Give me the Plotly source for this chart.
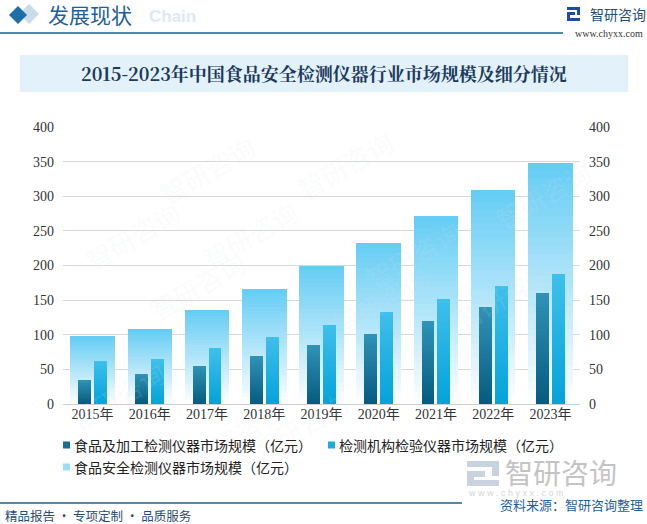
import plotly.graph_objects as go

# ---- data ----
years = ["2015年", "2016年", "2017年", "2018年", "2019年", "2020年", "2021年", "2022年", "2023年"]
food_processing = [35.3, 44.0, 55.6, 68.6, 84.5, 100.5, 119.3, 139.6, 159.9]
testing_agency = [62.8, 64.3, 80.2, 96.1, 113.5, 132.4, 151.2, 170.0, 187.4]
total_market = [97.6, 107.7, 135.3, 165.7, 199.5, 232.4, 271.5, 309.2, 348.3]
y_ticks = [0, 50, 100, 150, 200, 250, 300, 350, 400]

name_proc = "食品及加工检测仪器市场规模（亿元）"
name_agency = "检测机构检验仪器市场规模（亿元）"
name_total = "食品安全检测仪器市场规模（亿元）"

W, H = 647, 524
ML, MR, MT, MB = 63, 67, 127, 120
PW, PH = W - ML - MR, H - MT - MB

def hex2rgb(h):
    h = h.lstrip("#")
    return tuple(int(h[i:i + 2], 16) for i in (0, 2, 4))

def mix(c1, c2, t):
    a, b = hex2rgb(c1), hex2rgb(c2)
    return "rgb(%d,%d,%d)" % tuple(round(a[i] + (b[i] - a[i]) * t) for i in range(3))

fig = go.Figure()
N = 32

def gradient_bars(vals, bottom, top, offset, width):
    for k in range(N):
        base = [v * k / N for v in vals]
        h = [v / N * (1.6 if k < N - 1 else 1.0) for v in vals]
        fig.add_trace(go.Bar(
            x=years, y=h, base=base, offset=offset, width=width,
            marker=dict(color=mix(bottom, top, (k + 0.5) / N), line=dict(width=0)),
            showlegend=False, hoverinfo="skip"))

gradient_bars(total_market, "#ffffff", "#64ccf4", -0.39, 0.78)
gradient_bars(food_processing, "#055b7f", "#3093b7", -0.252, 0.226)
gradient_bars(testing_agency, "#03a3da", "#40bfeb", 0.026, 0.226)

# invisible trace for right axis
fig.add_trace(go.Scatter(x=years, y=total_market, yaxis="y2", mode="markers",
                         marker=dict(opacity=0), showlegend=False, hoverinfo="skip"))

tick_font = dict(family="Liberation Serif, Noto Sans CJK SC", size=14, color="#333333")

fig.update_layout(
    width=W, height=H,
    margin=dict(l=ML, r=MR, t=MT, b=MB),
    paper_bgcolor="white", plot_bgcolor="rgba(0,0,0,0)",
    barmode="overlay", bargap=0,
    showlegend=False,
    xaxis=dict(type="category", showgrid=False, zeroline=False, showline=False,
               ticks="", tickfont=dict(family="Liberation Serif, Noto Sans CJK SC", size=14, color="#333333")),
    yaxis=dict(range=[0, 400], tickvals=y_ticks, showgrid=True, gridcolor="#d9d9d9", gridwidth=1,
               zeroline=True, zerolinecolor="#cfcfcf", zerolinewidth=1, showline=False,
               ticks="", tickfont=tick_font, ticklabelstandoff=8),
    yaxis2=dict(range=[0, 400], tickvals=y_ticks, overlaying="y", side="right", showgrid=False,
                zeroline=False, showline=False, ticks="", tickfont=tick_font, ticklabelstandoff=8),
    font=dict(family="Noto Sans CJK SC"),
)

shapes = []
ann = []

def px_x(x):
    return (x - ML) / PW

def px_y(y):
    return (H - MB - y) / PH

# faint background watermarks
for (wx, wy) in [(150, 125), (345, 120), (75, 235), (250, 190), (470, 210), (600, 150),
                 (140, 330), (380, 300), (560, 340), (60, 440), (300, 470), (180, 480)]:
    ann.append(dict(x=px_x(wx), y=px_y(wy), xref="paper", yref="paper", text="智研咨询",
                    showarrow=False, textangle=-30,
                    font=dict(family="Noto Sans CJK SC", size=26, color="rgba(215,226,238,0.14)")))

# header
shapes.append(dict(type="path", xref="paper", yref="paper",
                   path="M %f %f L %f %f L %f %f L %f %f Z" % (px_x(29), px_y(4), px_x(39), px_y(14), px_x(29), px_y(24), px_x(19), px_y(14)),
                   fillcolor="#c9dcea", line=dict(width=0), layer="below"))
shapes.append(dict(type="path", xref="paper", yref="paper",
                   path="M %f %f L %f %f L %f %f L %f %f Z" % (px_x(18), px_y(6), px_x(27), px_y(15), px_x(18), px_y(24), px_x(9), px_y(15)),
                   fillcolor="#1d6ea6", line=dict(width=0)))
ann.append(dict(x=px_x(147), y=px_y(16), xref="paper", yref="paper", text="<b>Chain</b>",
                showarrow=False, xanchor="left", yanchor="middle",
                font=dict(family="Liberation Sans", size=17, color="#dde9f4")))
ann.append(dict(x=px_x(46), y=px_y(14), xref="paper", yref="paper", text="发展现状",
                showarrow=False, xanchor="left", yanchor="middle",
                font=dict(family="Noto Sans CJK SC", size=21, color="#1f6098")))
shapes.append(dict(type="line", xref="paper", yref="paper", x0=px_x(0), x1=px_x(563), y0=px_y(33), y1=px_y(33),
                   line=dict(color="#1f5f8a", width=1.5)))
# top-right logo
for (x0, y0, x1, y1) in [(567, 7, 580, 10), (577, 7, 580, 15), (567, 12, 575, 15), (567, 12, 570, 21), (567, 18, 580, 21)]:
    shapes.append(dict(type="rect", xref="paper", yref="paper", x0=px_x(x0), x1=px_x(x1), y0=px_y(y0), y1=px_y(y1),
                       fillcolor="#1f4e9a", line=dict(width=0)))
ann.append(dict(x=px_x(588), y=px_y(14), xref="paper", yref="paper", text="智研咨询",
                showarrow=False, xanchor="left", yanchor="middle",
                font=dict(family="Noto Sans CJK SC", size=14, color="#1f4e79")))
ann.append(dict(x=px_x(645), y=px_y(33), xref="paper", yref="paper", text="www.chyxx.com",
                showarrow=False, xanchor="right", yanchor="middle",
                font=dict(family="Liberation Serif", size=10, color="#333333")))

# title box
shapes.append(dict(type="rect", xref="paper", yref="paper", x0=px_x(20), x1=px_x(628), y0=px_y(55), y1=px_y(92),
                   fillcolor="#e3f1fa", line=dict(width=0), layer="below"))
ann.append(dict(x=px_x(324), y=px_y(73), xref="paper", yref="paper",
                text="<b>2015-2023年中国食品安全检测仪器行业市场规模及细分情况</b>",
                showarrow=False, xanchor="center", yanchor="middle",
                font=dict(family="Noto Serif CJK SC, Noto Sans CJK SC", size=18, color="#1b3a5c")))

# legend
legend_items = [(63, 445, name_proc, "#1a6e91"), (328, 445, name_agency, "#1aa9e0"), (63, 467, name_total, "#9fdcf6")]
for (lx, ly, txt, col) in legend_items:
    shapes.append(dict(type="rect", xref="paper", yref="paper", x0=px_x(lx), x1=px_x(lx + 7),
                       y0=px_y(ly - 3.5), y1=px_y(ly + 3.5), fillcolor=col, line=dict(width=0)))
    ann.append(dict(x=px_x(lx + 9), y=px_y(ly), xref="paper", yref="paper", text=txt,
                    showarrow=False, xanchor="left", yanchor="middle",
                    font=dict(family="Noto Sans CJK SC", size=14, color="#222222")))

# bottom-right watermark logo
for (x0, y0, x1, y1) in [(467, 461, 499, 467), (492, 461, 499, 476), (467, 471, 485, 477), (467, 471, 474, 486), (467, 480, 499, 486)]:
    shapes.append(dict(type="rect", xref="paper", yref="paper", x0=px_x(x0), x1=px_x(x1), y0=px_y(y0), y1=px_y(y1),
                       fillcolor="#c9d3df", line=dict(width=0)))
ann.append(dict(x=px_x(503), y=px_y(472), xref="paper", yref="paper", text="智研咨询",
                showarrow=False, xanchor="left", yanchor="middle",
                font=dict(family="Noto Sans CJK SC", size=28, color="#c4c4c4")))
ann.append(dict(x=px_x(466), y=px_y(493), xref="paper", yref="paper", text="w w w . c h y x x . c o m",
                showarrow=False, xanchor="left", yanchor="middle",
                font=dict(family="Liberation Sans", size=9, color="#d6d6d6")))

# footer
shapes.append(dict(type="line", xref="paper", yref="paper", x0=px_x(0), x1=px_x(462), y0=px_y(503), y1=px_y(503),
                   line=dict(color="#1f5f8a", width=1.5)))
ann.append(dict(x=px_x(645), y=px_y(504), xref="paper", yref="paper", text="资料来源：智研咨询整理",
                showarrow=False, xanchor="right", yanchor="middle",
                font=dict(family="Noto Sans CJK SC", size=13, color="#1f5f9f")))
ann.append(dict(x=px_x(3), y=px_y(515), xref="paper", yref="paper", text="精品报告 · 专项定制 · 品质服务",
                showarrow=False, xanchor="left", yanchor="middle",
                font=dict(family="Noto Sans CJK SC", size=12.5, color="#1f4e79")))

fig.update_layout(shapes=shapes, annotations=ann)
fig.write_html("out.html", config={"displayModeBar": False, "staticPlot": True})

# remove default page margin so the chart fills the window exactly
with open("out.html", "r", encoding="utf-8") as f:
    html = f.read()
html = html.replace("<head>", "<head><style>html,body{margin:0;padding:0;overflow:hidden;}</style>", 1)
with open("out.html", "w", encoding="utf-8") as f:
    f.write(html)
